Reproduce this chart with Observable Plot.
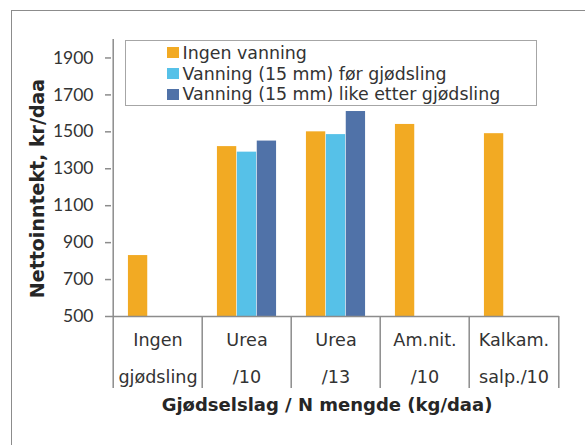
<!DOCTYPE html>
<html>
<head>
<meta charset="utf-8">
<script src="https://cdn.jsdelivr.net/npm/d3@7"></script>
<script src="https://cdn.jsdelivr.net/npm/@observablehq/plot@0.6"></script>
<style>
  html, body { margin: 0; padding: 0; background: #fff; }
  #wrap { position: relative; width: 585px; height: 445px; overflow: hidden; }
  #border { position: absolute; left: 11px; top: 10px; width: 700px; height: 600px;
            border-left: 1.5px solid #8c8c8c; border-top: 1.5px solid #8c8c8c; }
  #chart { position: absolute; left: 0; top: 0; }
  #legend { position: absolute; left: 124.5px; top: 39.5px; width: 412px; height: 66px;
            box-sizing: border-box; border: 1.5px solid #a6a6a6; background: #fff;
            font-family: "DejaVu Sans", sans-serif; font-size: 17.4px; color: #333; }
  .row { position: absolute; left: 41px; height: 20px; display: flex; align-items: center; white-space: nowrap; }
  .sw { width: 12px; height: 11px; margin-right: 4px; flex: none; }
</style>
</head>
<body>
<div id="wrap">
  <div id="border"></div>
  <div id="chart"></div>
  <div id="legend"></div>
</div>
<script>
// ---- data ----
const categoryLine1 = ["Ingen", "Urea", "Urea", "Am.nit.", "Kalkam."];
const categoryLine2 = ["gjødsling", "/10", "/13", "/10", "salp./10"];
const series = ["Ingen vanning", "Vanning (15 mm) før gjødsling", "Vanning (15 mm) like etter gjødsling"];
const ingenVanning   = [830, 1420, 1500, 1540, 1490];
const vanningFor     = [null, 1390, 1485, null, null];
const vanningEtter   = [null, 1450, 1610, null, null];
const yTicks = [500, 700, 900, 1100, 1300, 1500, 1700, 1900];
const yDomain = [500, 2000];
const yTitle = "Nettoinntekt, kr/daa";
const xTitle = "Gjødselslag / N mengde (kg/daa)";
const colors = ["#F2AA23", "#56C1E8", "#5072A8"];

// ---- build ----
const categories = categoryLine1.map((a, i) => a + " " + categoryLine2[i]);
const seriesValues = [ingenVanning, vanningFor, vanningEtter];
const rows = [];
categories.forEach((c, ci) => series.forEach((s, si) => {
  const v = seriesValues[si][ci];
  if (v != null) rows.push({category: c, series: s, si, value: v});
}));

const W = 585, H = 445;
const mL = 111, mR = 26, mT = 39, mB = 129;
const bw = (W - mL - mR) / categories.length;
const barW = bw / 4.5;
const pad = (bw - 3 * barW) / 2;
const plotH = H - mT - mB;
const axisGray = "#8c8c8c";
const textDark = "#333333";

const barMarks = series.map((s, si) => Plot.barY(rows.filter(d => d.si === si), {
  x: "category", y1: yDomain[0], y2: "value", fill: "series",
  insetLeft: pad + si * barW, insetRight: bw - pad - (si + 1) * barW
}));

const chart = Plot.plot({
  width: W, height: H,
  marginLeft: mL, marginRight: mR, marginTop: mT, marginBottom: mB,
  style: {fontFamily: "DejaVu Sans, sans-serif", fontSize: "16px", background: "transparent", overflow: "visible"},
  x: {type: "band", domain: categories, padding: 0, axis: null},
  y: {domain: yDomain, axis: null},
  color: {domain: series, range: colors},
  marks: [
    ...barMarks,
    // x axis baseline
    Plot.ruleY([yDomain[0]], {stroke: axisGray, strokeWidth: 1.5}),
    // y axis line
    Plot.ruleX([categories[0]], {x: d => d, dx: -bw / 2, stroke: axisGray, strokeWidth: 1.5}),
    // category separators below axis
    Plot.ruleX(categories, {x: d => d, dx: -bw / 2, insetTop: plotH, insetBottom: -72, stroke: axisGray, strokeWidth: 1.5}),
    Plot.ruleX([categories[categories.length - 1]], {x: d => d, dx: bw / 2, insetTop: plotH, insetBottom: -72, stroke: axisGray, strokeWidth: 1.5}),
    Plot.axisY({ticks: yTicks, tickFormat: d => String(d), tickSize: 6, tickPadding: 12, stroke: axisGray, strokeWidth: 1.5,
                fill: textDark, fontSize: 17.5, fontFamily: "Lato", label: null}),
    // category labels
    Plot.text(categories, {x: d => d, text: (d, i) => categoryLine1[i], frameAnchor: "bottom", dy: 24,
                           lineAnchor: "middle", fill: textDark, fontSize: 17.6}),
    Plot.text(categories, {x: d => d, text: (d, i) => categoryLine2[i], frameAnchor: "bottom", dy: 61,
                           lineAnchor: "middle", fill: textDark, fontSize: 17.6}),
    // titles
    Plot.text([xTitle], {frameAnchor: "bottom", dy: 89, dx: -8.5, lineAnchor: "middle",
                         fontWeight: "bold", fontSize: 18, fill: "#262626"}),
    Plot.text([yTitle], {frameAnchor: "left", textAnchor: "middle", dx: -74, dy: 10.5, rotate: -90, lineAnchor: "middle",
                         fontWeight: "bold", fontSize: 19, fill: "#262626"})
  ]
});
document.getElementById("chart").appendChild(chart);

// legend
const legend = document.getElementById("legend");
const rowTops = [2, 23, 43.5];
series.forEach((s, i) => {
  const r = document.createElement("div");
  r.className = "row";
  r.style.top = rowTops[i] + "px";
  const sw = document.createElement("span");
  sw.className = "sw";
  sw.style.background = colors[i];
  const t = document.createElement("span");
  t.textContent = s;
  r.appendChild(sw); r.appendChild(t);
  legend.appendChild(r);
});
</script>
</body>
</html>
